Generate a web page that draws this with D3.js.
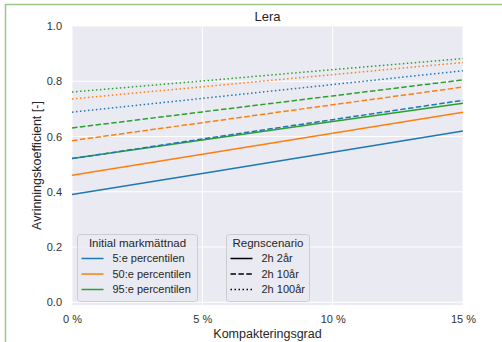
<!DOCTYPE html>
<html><head><meta charset="utf-8">
<script src="https://cdn.jsdelivr.net/npm/d3@7"></script>
<style>body{margin:0;background:#fff}svg{display:block;font-family:"Liberation Sans",Arial,sans-serif}</style>
</head><body><svg id="c" width="502" height="342"></svg>
<script>
const xValues = [0, 5, 10, 15];
const percentiles = ["5:e percentilen", "50:e percentilen", "95:e percentilen"];
const scenarios = ["2h 2år", "2h 10år", "2h 100år"];
const colors = ["#1f77b4", "#ff7f0e", "#2ca02c"];
const solid5 = [0.39, 0.466, 0.543, 0.62];
const solid50 = [0.46, 0.536, 0.612, 0.688];
const solid95 = [0.52, 0.587, 0.654, 0.72];
const dashed5 = [0.52, 0.591, 0.661, 0.731];
const dashed50 = [0.585, 0.65, 0.715, 0.779];
const dashed95 = [0.631, 0.689, 0.747, 0.805];
const dotted5 = [0.688, 0.738, 0.788, 0.838];
const dotted50 = [0.736, 0.78, 0.824, 0.868];
const dotted95 = [0.761, 0.801, 0.842, 0.882];
const yTicks = [0, 0.2, 0.4, 0.6, 0.8, 1.0];
const xTicks = [0, 5, 10, 15];

const series = [
  {p:0,s:0,v:solid5},{p:1,s:0,v:solid50},{p:2,s:0,v:solid95},
  {p:0,s:1,v:dashed5},{p:1,s:1,v:dashed50},{p:2,s:1,v:dashed95},
  {p:0,s:2,v:dotted5},{p:1,s:2,v:dotted50},{p:2,s:2,v:dotted95}
];
const dashes = [null, "5.5,2.4", "1.5,2.5"];

const svg = d3.select("#c");
const L=72, R=463, T=26, B=305;
const x = d3.scaleLinear().domain([0,15]).range([L,R]);
const y = d3.scaleLinear().domain([-0.01,1.0]).range([B,T]);

svg.append("line").attr("x1",5).attr("x2",502).attr("y1",4.5).attr("y2",4.5).attr("stroke","#9cc78a").attr("stroke-width",1.5);
svg.append("line").attr("x1",5.5).attr("x2",5.5).attr("y1",4).attr("y2",342).attr("stroke","#9cc78a").attr("stroke-width",1.5);

svg.append("rect").attr("x",L).attr("y",T).attr("width",R-L).attr("height",B-T).attr("fill","#eaeaf2");

const grid = svg.append("g");
yTicks.forEach(t=>grid.append("line").attr("x1",L).attr("x2",R).attr("y1",y(t)).attr("y2",y(t)).attr("stroke","#fff").attr("stroke-width",1));
xTicks.forEach(t=>grid.append("line").attr("x1",x(t)).attr("x2",x(t)).attr("y1",T).attr("y2",B).attr("stroke","#fff").attr("stroke-width",1));

const yAxis = d3.axisLeft(y).tickValues(yTicks).tickFormat(d3.format(".1f")).tickSize(0).tickPadding(10);
const gy = svg.append("g").attr("transform",`translate(${L},0)`).call(yAxis);
const xAxis = d3.axisBottom(x).tickValues(xTicks).tickFormat(d=>d+" %").tickSize(0).tickPadding(10);
const gx = svg.append("g").attr("transform",`translate(0,${B})`).call(xAxis);
[gy,gx].forEach(g=>{g.select(".domain").remove();g.selectAll("text").attr("font-size",11).attr("fill","#333").attr("font-family","Liberation Sans, Arial, sans-serif");});

const line = d3.line().x((d,i)=>x(xValues[i])).y(d=>y(d));
const lg = svg.append("g");
series.forEach(s=>{
  lg.append("path").attr("d",line(s.v)).attr("fill","none").attr("stroke",colors[s.p]).attr("stroke-width",1.5)
    .attr("stroke-dasharray",dashes[s.s]);
});

svg.append("text").attr("x",(L+R)/2).attr("y",20.5).attr("text-anchor","middle").attr("font-size",13).attr("fill","#262626").text("Lera");
svg.append("text").attr("x",(L+R)/2).attr("y",337.5).attr("text-anchor","middle").attr("font-size",12.5).attr("fill","#262626").text("Kompakteringsgrad");
svg.append("text").attr("transform",`translate(40.5,${(T+B)/2}) rotate(-90)`).attr("text-anchor","middle").attr("font-size",12.5).attr("fill","#262626").text("Avrinningskoefficient [-]");

function legend(x0,y0,w,h,title,labels,strokeFn){
  const g = svg.append("g");
  g.append("rect").attr("x",x0).attr("y",y0).attr("width",w).attr("height",h).attr("rx",3)
   .attr("fill","#eaeaf2").attr("fill-opacity",0.8).attr("stroke","#cccccc").attr("stroke-width",1);
  g.append("text").attr("x",x0+w/2).attr("y",y0+12).attr("text-anchor","middle").attr("font-size",11.5).attr("fill","#262626").text(title);
  labels.forEach((lab,i)=>{
    const cy = y0+24+i*15.5;
    const st = strokeFn(i);
    g.append("line").attr("x1",x0+4).attr("x2",x0+26).attr("y1",cy).attr("y2",cy).attr("stroke",st.c).attr("stroke-width",1.5).attr("stroke-dasharray",st.d);
    g.append("text").attr("x",x0+35).attr("y",cy+3.8).attr("font-size",11).attr("fill","#262626").text(lab);
  });
}
legend(77.5,234.5,120,67,"Initial markmättnad",percentiles,i=>({c:colors[i],d:null}));
legend(226.5,234.5,83,67,"Regnscenario",scenarios,i=>({c:"#000",d:dashes[i]}));
</script></body></html>
